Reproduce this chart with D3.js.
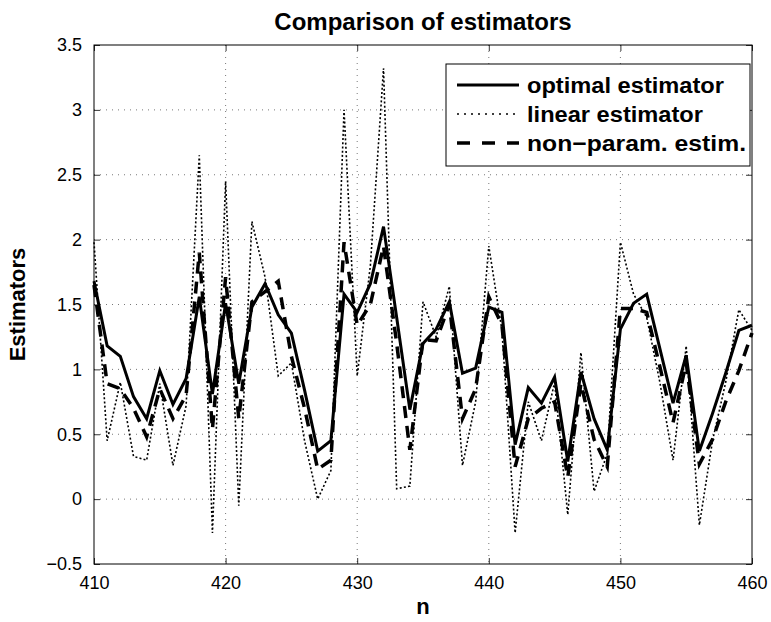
<!DOCTYPE html>
<html><head><meta charset="utf-8">
<script src="https://cdn.jsdelivr.net/npm/d3@7"></script>
<style>body{margin:0;background:#fff}svg text{font-family:"Liberation Sans",Arial,sans-serif}</style>
</head><body><svg id="c" width="771" height="622"></svg>
<script>
const nStart = 410;
const optimal = [1.68,1.18,1.10,0.79,0.62,0.99,0.73,0.93,1.56,0.81,1.51,0.89,1.48,1.66,1.42,1.28,0.84,0.37,0.45,1.58,1.44,1.66,2.10,1.40,0.69,1.20,1.31,1.52,0.97,1.01,1.48,1.44,0.42,0.86,0.74,0.94,0.29,0.98,0.62,0.38,1.31,1.51,1.58,1.16,0.74,1.11,0.37,0.66,0.97,1.30,1.34];
const linear = [1.98,0.45,0.90,0.33,0.30,0.89,0.26,0.72,2.65,-0.26,2.45,-0.05,2.14,1.71,0.95,1.05,0.45,0.00,0.22,3.00,0.95,1.80,3.32,0.08,0.10,1.52,1.25,1.64,0.26,0.75,1.95,1.30,-0.26,0.75,0.45,0.90,-0.12,1.13,0.06,0.35,1.98,1.58,1.40,0.90,0.30,1.18,-0.20,0.45,0.90,1.46,1.30];
const nonparam = [1.65,0.89,0.85,0.70,0.48,0.85,0.62,0.80,1.90,0.54,1.71,0.62,1.52,1.60,1.68,1.10,0.70,0.23,0.30,1.98,1.34,1.50,1.95,1.20,0.38,1.23,1.22,1.50,0.62,0.85,1.56,1.34,0.25,0.62,0.70,0.75,0.17,0.89,0.46,0.25,1.47,1.47,1.44,1.02,0.59,1.05,0.27,0.46,0.75,0.99,1.28];
const xTicks = [410,420,430,440,450,460];
const yTicks = [-0.5,0,0.5,1,1.5,2,2.5,3,3.5];
const yTickLabels = ["\u22120.5","0","0.5","1","1.5","2","2.5","3","3.5"];
const legendLabels = ["optimal estimator","linear estimator","non\u2212param. estim."];

const L=94,R=752,T=45,B=564;
const svg=d3.select("#c");
const x=d3.scaleLinear().domain([410,460]).range([L,R]);
const y=d3.scaleLinear().domain([-0.5,3.5]).range([B,T]);

// grid
const g=svg.append("g");
g.selectAll(".gx").data(xTicks.slice(1,-1)).join("line")
 .attr("x1",d=>x(d)).attr("x2",d=>x(d)).attr("y1",T).attr("y2",B)
 .attr("stroke","#555").attr("stroke-width",0.8).attr("stroke-dasharray","1,5");
g.selectAll(".gy").data(yTicks.slice(1,-1)).join("line")
 .attr("y1",d=>y(d)).attr("y2",d=>y(d)).attr("x1",L).attr("x2",R)
 .attr("stroke","#555").attr("stroke-width",0.8).attr("stroke-dasharray","1,5");

// axes
const ax=d3.axisBottom(x).tickValues(xTicks).tickSize(-6).tickPadding(12).tickFormat(d3.format("d"));
const axT=d3.axisTop(x).tickValues(xTicks).tickSize(-6).tickFormat("");
const ay=d3.axisLeft(y).tickValues(yTicks).tickSize(-6).tickPadding(12).tickFormat((d,i)=>yTickLabels[i]);
const ayR=d3.axisRight(y).tickValues(yTicks).tickSize(-6).tickFormat("");
function style(sel){sel.select(".domain").remove();sel.selectAll("line").attr("stroke","#000").attr("stroke-width",0.8);
 sel.selectAll("text").attr("font-size",18).attr("fill","#000").attr("font-family","Liberation Sans, Arial, sans-serif");}
svg.append("g").attr("transform",`translate(0,${B})`).call(ax).call(style);
svg.append("g").attr("transform",`translate(0,${T})`).call(axT).call(style);
svg.append("g").attr("transform",`translate(${L},0)`).call(ay).call(style);
svg.append("g").attr("transform",`translate(${R},0)`).call(ayR).call(style);

const line=d3.line().x((d,i)=>x(nStart+i)).y(d=>y(d));
svg.append("path").datum(linear).attr("d",line).attr("fill","none").attr("stroke","#000").attr("stroke-width",1.6).attr("stroke-dasharray","2,2.2");
svg.append("path").datum(nonparam).attr("d",line).attr("fill","none").attr("stroke","#000").attr("stroke-width",3.5).attr("stroke-dasharray","12,8");
svg.append("path").datum(optimal).attr("d",line).attr("fill","none").attr("stroke","#000").attr("stroke-width",3);

svg.append("rect").attr("x",L).attr("y",T).attr("width",R-L).attr("height",B-T).attr("fill","none").attr("stroke","#000").attr("stroke-width",1);

// legend
const lg=svg.append("g");
lg.append("rect").attr("x",446).attr("y",64).attr("width",304).attr("height",102).attr("fill","#fff").attr("stroke","#000").attr("stroke-width",1);
const styles=[{w:3,d:null},{w:1.5,d:"2,5"},{w:3.5,d:"13,12"}];
legendLabels.forEach((t,i)=>{
 const yy=85+i*29;
 const ln=lg.append("line").attr("x1",457).attr("x2",519).attr("y1",yy).attr("y2",yy).attr("stroke","#000").attr("stroke-width",styles[i].w);
 if(styles[i].d) ln.attr("stroke-dasharray",styles[i].d);
 lg.append("text").attr("x",527).attr("y",yy).attr("dy","0.35em").attr("font-size",22.5).attr("font-weight","bold").attr("textLength",i===0?197:(i===1?176:219)).attr("lengthAdjust","spacingAndGlyphs").text(t);
});

svg.append("text").attr("x",(L+R)/2).attr("y",30).attr("text-anchor","middle").attr("font-size",24).attr("font-weight","bold").text("Comparison of estimators");
svg.append("text").attr("x",(L+R)/2).attr("y",614).attr("text-anchor","middle").attr("font-size",22).attr("font-weight","bold").text("n");
svg.append("text").attr("transform",`translate(25,${(T+B)/2}) rotate(-90)`).attr("text-anchor","middle").attr("font-size",22).attr("font-weight","bold").text("Estimators");
</script></body></html>
